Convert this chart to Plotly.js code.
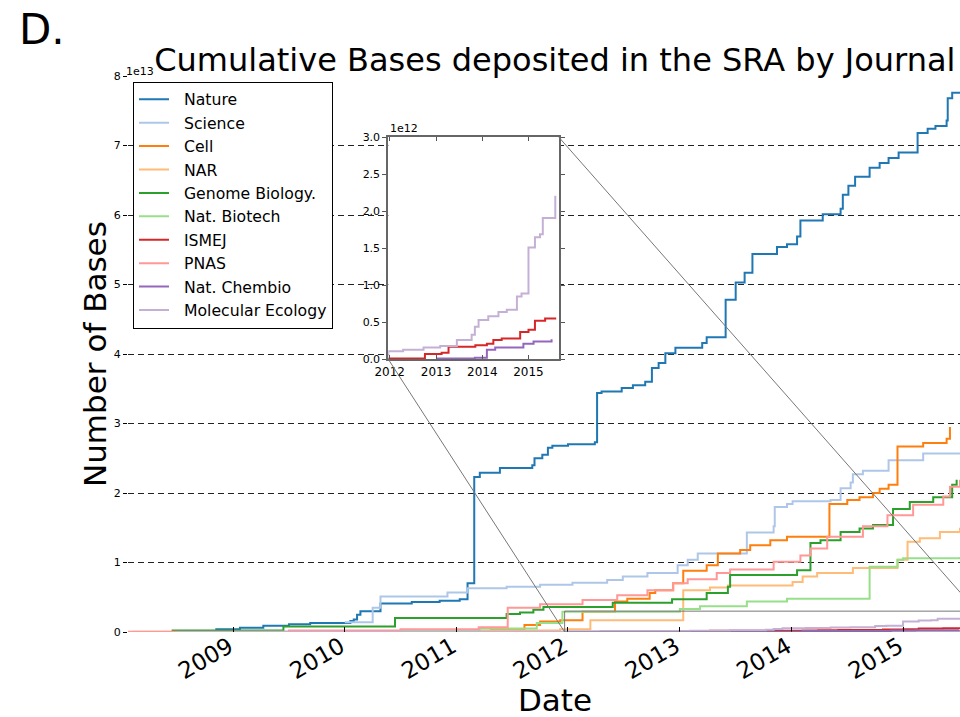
<!DOCTYPE html>
<html>
<head>
<meta charset="utf-8">
<script src="https://cdn.plot.ly/plotly-3.0.1.min.js"></script>
<style>html,body{margin:0;padding:0;background:#fff;}#chart{width:960px;height:717px;}</style>
</head>
<body>
<div id="chart"></div>
<script>
// ---- data (dates as decimal years, values in bases) ----
const journalNames = ["Nature","Science","Cell","NAR","Genome Biology.","Nat. Biotech","ISMEJ","PNAS","Nat. Chembio","Molecular Ecology"];
const journalColors = ["#1f77b4","#aec7e8","#ff7f0e","#ffbb78","#2ca02c","#98df8a","#d62728","#ff9896","#9467bd","#c5b0d5"];

const natureYears = [2008.84,2009.06,2009.27,2009.5,2009.69,2010.05,2010.08,2010.11,2010.14,2010.32,2010.6,2010.85,2011.03,2011.10,2011.16,2011.21,2011.39,2011.68,2011.70,2011.77,2011.82,2011.86,2012.0,2012.24,2012.26,2012.30,2012.48,2012.58,2012.69,2012.75,2012.81,2012.87,2012.96,2013.20,2013.24,2013.41,2013.50,2013.58,2013.65,2013.87,2013.96,2014.05,2014.08,2014.28,2014.44,2014.46,2014.51,2014.57,2014.70,2014.79,2014.87,2014.96,2015.13,2015.22,2015.29,2015.39,2015.40,2015.44,2015.56];
const natureBases = [0.04e13,0.06e13,0.09e13,0.11e13,0.13e13,0.16e13,0.18e13,0.25e13,0.30e13,0.41e13,0.43e13,0.45e13,0.47e13,0.70e13,2.23e13,2.29e13,2.36e13,2.40e13,2.50e13,2.55e13,2.65e13,2.68e13,2.70e13,2.73e13,3.44e13,3.46e13,3.51e13,3.55e13,3.60e13,3.80e13,3.87e13,4.01e13,4.09e13,4.16e13,4.24e13,4.78e13,5.03e13,5.17e13,5.44e13,5.54e13,5.58e13,5.69e13,5.92e13,6.01e13,6.09e13,6.29e13,6.42e13,6.55e13,6.68e13,6.75e13,6.82e13,6.90e13,7.18e13,7.24e13,7.28e13,7.36e13,7.68e13,7.76e13,7.78e13];

const scienceYears = [2010.00,2010.25,2010.32,2010.92,2011.10,2011.45,2011.75,2012.04,2012.35,2012.49,2012.71,2012.98,2013.07,2013.16,2013.60,2013.84,2013.85,2013.96,2014.01,2014.35,2014.44,2014.53,2014.55,2014.64,2014.87,2015.18,2015.55];
const scienceBases = [0.14e13,0.35e13,0.51e13,0.57e13,0.63e13,0.65e13,0.68e13,0.71e13,0.75e13,0.80e13,0.85e13,0.96e13,1.04e13,1.13e13,1.43e13,1.52e13,1.80e13,1.84e13,1.88e13,1.90e13,2.07e13,2.15e13,2.27e13,2.32e13,2.47e13,2.57e13,2.58e13];

const cellYears = [2011.30,2011.61,2011.75,2011.93,2012.13,2012.42,2012.53,2012.73,2012.78,2012.94,2013.03,2013.24,2013.34,2013.54,2013.63,2013.81,2013.96,2014.34,2014.50,2014.61,2014.73,2014.79,2014.87,2014.95,2015.18,2015.39,2015.42];
const cellBases = [0.03e13,0.10e13,0.15e13,0.17e13,0.29e13,0.44e13,0.48e13,0.56e13,0.60e13,0.70e13,0.88e13,0.96e13,1.13e13,1.18e13,1.25e13,1.32e13,1.37e13,1.84e13,1.90e13,1.94e13,2.00e13,2.06e13,2.12e13,2.67e13,2.72e13,2.78e13,2.95e13];

const narYears = [2008.10,2010.94,2011.93,2012.20,2013.03,2013.27,2013.43,2014.01,2014.10,2014.23,2014.55,2014.95,2015.04,2015.15,2015.33,2015.51];
const narBases = [0.005e13,0.02e13,0.04e13,0.17e13,0.60e13,0.64e13,0.67e13,0.72e13,0.80e13,0.85e13,0.92e13,1.04e13,1.30e13,1.35e13,1.44e13,1.50e13];

const genomeYears = [2008.45,2009.45,2010.45,2011.45,2011.57,2011.69,2011.78,2012.40,2012.93,2013.24,2013.43,2013.45,2014.05,2014.17,2014.26,2014.44,2014.61,2014.73,2014.91,2015.06,2015.27,2015.44,2015.48];
const genomeBases = [0.02e13,0.08e13,0.20e13,0.26e13,0.28e13,0.32e13,0.36e13,0.42e13,0.47e13,0.56e13,0.65e13,0.82e13,0.89e13,1.28e13,1.32e13,1.44e13,1.49e13,1.54e13,1.77e13,1.87e13,1.94e13,2.12e13,2.19e13];

const biotechYears = [2009.00,2010.50,2011.21,2011.72,2011.95,2013.00,2013.18,2013.60,2013.96,2014.70,2014.95,2015.00,2015.51];
const biotechBases = [0.005e13,0.02e13,0.05e13,0.13e13,0.29e13,0.33e13,0.37e13,0.44e13,0.48e13,0.94e13,1.04e13,1.06e13,1.08e13];

const ismejYears = [2009.50,2011.97,2012.76,2013.12,2013.27,2013.85,2014.10,2014.24,2014.42,2014.82,2015.00,2015.14,2015.36,2015.60];
const ismejBases = [0.002e12,0.01e12,0.07e12,0.09e12,0.17e12,0.19e12,0.21e12,0.26e12,0.28e12,0.37e12,0.40e12,0.52e12,0.55e12,0.55e12];

const pnasYears = [2008.05,2009.50,2010.50,2011.20,2011.46,2011.75,2012.13,2012.44,2012.71,2012.94,2013.07,2013.33,2013.45,2013.84,2014.08,2014.17,2014.32,2014.64,2014.86,2015.09,2015.36,2015.42,2015.51];
const pnasBases = [0.005e13,0.02e13,0.04e13,0.07e13,0.35e13,0.40e13,0.46e13,0.53e13,0.60e13,0.70e13,0.76e13,0.85e13,0.90e13,1.01e13,1.10e13,1.20e13,1.37e13,1.52e13,1.68e13,1.83e13,1.95e13,2.09e13,2.19e13];

const chembioYears = [2013.00,2013.84,2014.10,2014.28,2014.89,2015.11,2015.50];
const chembioBases = [0.01e12,0.02e12,0.13e12,0.16e12,0.21e12,0.24e12,0.27e12];

const molecoYears = [2008.50,2010.50,2011.97,2012.29,2012.73,2013.09,2013.45,2013.77,2013.84,2013.92,2014.13,2014.35,2014.53,2014.75,2014.85,2015.00,2015.14,2015.25,2015.31,2015.58];
const molecoBases = [0.01e12,0.05e12,0.11e12,0.13e12,0.16e12,0.18e12,0.26e12,0.33e12,0.44e12,0.53e12,0.58e12,0.64e12,0.67e12,0.85e12,0.89e12,1.51e12,1.65e12,1.69e12,1.91e12,2.21e12];

const mainYTicks = [0,1e13,2e13,3e13,4e13,5e13,6e13,7e13,8e13];
const mainYTickText = ["0","1","2","3","4","5","6","7","8"];
const insetYTicks = [0,0.5e12,1.0e12,1.5e12,2.0e12,2.5e12,3.0e12];
const insetYTickText = ["0.0","0.5","1.0","1.5","2.0","2.5","3.0"];
const yearTicks = [2009,2010,2011,2012,2013,2014,2015];
const insetYearTicks = [2012,2013,2014,2015];

// ---- helpers ----
function toDate(y){
  const yr = Math.floor(y);
  const s = Date.UTC(yr,0,1), e = Date.UTC(yr+1,0,1);
  return new Date(s + (y-yr)*(e-s)).toISOString().slice(0,19).replace('T',' ');
}
const seriesYears = [natureYears,scienceYears,cellYears,narYears,genomeYears,biotechYears,ismejYears,pnasYears,chembioYears,molecoYears];
const seriesBases = [natureBases,scienceBases,cellBases,narBases,genomeBases,biotechBases,ismejBases,pnasBases,chembioBases,molecoBases];
const insetSeries = [6,8,9];

const mainX0 = 2008.06, mainX1 = 2015.51;
const insetX0 = 2011.97, insetX1 = 2015.66;
const insetDomX = [0.3129, 0.518];
const insetDomY = [0.4905, 0.8897];

const font = "DejaVu Sans, Liberation Sans, sans-serif";
const pad = '\u00a0\u00a0';
const traces = [];
journalNames.forEach((name,i)=>{
  traces.push({
    type:'scatter', mode:'lines', name:pad+name,
    x: seriesYears[i].map(toDate), y: seriesBases[i],
    line:{color:journalColors[i], width:2, shape:'hv'},
    xaxis:'x', yaxis:'y', hoverinfo:'skip'
  });
});
insetSeries.forEach(i=>{
  traces.push({
    type:'scatter', mode:'lines', name:journalNames[i], showlegend:false,
    x: seriesYears[i].map(toDate), y: seriesBases[i],
    line:{color:journalColors[i], width:2, shape:'hv'},
    xaxis:'x2', yaxis:'y2', hoverinfo:'skip'
  });
});

// paper coordinates of the zoomed rectangle's corners in the main axes
const px = y => (y - mainX0)/(mainX1 - mainX0);
const py = v => v/8e13;

const layout = {
  width:960, height:717,
  margin:{l:128, r:0, t:76, b:85},
  paper_bgcolor:'#fff', plot_bgcolor:'#fff',
  font:{family:font, color:'#000'},
  showlegend:true,
  title:{text:'Cumulative Bases deposited in the SRA by Journal', font:{size:32, family:font, color:'#000'},
         xref:'paper', x:0.513, xanchor:'center', yref:'container', y:0.917, yanchor:'middle'},
  xaxis:{type:'date', range:[toDate(mainX0), toDate(mainX1)], domain:[0,1],
         tickvals: yearTicks.map(y=>toDate(y)), ticktext: yearTicks.map(String),
         tickangle:-30, tickfont:{size:23, family:font, color:'#000'},
         ticklabelshift:-4, ticklabelstandoff:-4,
         ticks:'inside', ticklen:5, tickcolor:'#000', showgrid:false, showline:false, zeroline:false},
  yaxis:{range:[0,8e13], domain:[0,1], tickvals:mainYTicks, ticktext:mainYTickText,
         tickfont:{size:11, family:font, color:'#000'}, ticks:'outside', ticklen:4, tickcolor:'#000',
         showgrid:true, gridcolor:'#222', griddash:'6px,4px', gridwidth:1, zeroline:false, showline:false},
  xaxis2:{type:'date', anchor:'y2', domain:insetDomX, range:[toDate(insetX0), toDate(insetX1)],
          tickvals: insetYearTicks.map(y=>toDate(y)), ticktext:insetYearTicks.map(String),
          tickangle:0, tickfont:{size:12, family:font, color:'#000'},
          ticks:'inside', ticklen:4, tickcolor:'#555', showgrid:false, zeroline:false,
          showline:true, linecolor:'#666', linewidth:2, mirror:'ticks'},
  yaxis2:{anchor:'x2', domain:insetDomY, range:[0,3e12], tickvals:insetYTicks, ticktext:insetYTickText,
          tickfont:{size:11, family:font, color:'#000'}, ticks:'outside', ticklen:4, tickcolor:'#555',
          showgrid:false, zeroline:false, showline:true, linecolor:'#666', linewidth:2, mirror:'ticks'},
  legend:{x:0.006, y:0.99, xanchor:'left', yanchor:'top', xref:'paper', yref:'paper',
          bgcolor:'#fff', bordercolor:'#000', borderwidth:1, font:{size:15.7, family:font, color:'#000'},
          tracegroupgap:0},
  shapes:[
    {type:'rect', xref:'x', yref:'y', x0:toDate(insetX0), x1:toDate(insetX1), y0:0, y1:3e12,
     line:{color:'#777', width:1}, fillcolor:'rgba(0,0,0,0)', layer:'above'},
    {type:'line', xref:'paper', yref:'paper', x0:insetDomX[0], y0:insetDomY[0], x1:px(insetX0), y1:py(0),
     line:{color:'#777', width:1}, layer:'above'},
    {type:'line', xref:'paper', yref:'paper', x0:insetDomX[1], y0:insetDomY[1], x1:px(insetX1), y1:py(3e12),
     line:{color:'#777', width:1}, layer:'above'}
  ],
  annotations:[
    {text:'D.', xref:'paper', yref:'paper', x:-0.133, y:1.132, xanchor:'left', yanchor:'top', showarrow:false,
     font:{size:42, family:font, color:'#000'}},
    {text:'1e13', xref:'paper', yref:'paper', x:-0.0045, y:0.993, xanchor:'left', yanchor:'bottom', showarrow:false,
     font:{size:11, family:font, color:'#000'}},
    {text:'1e12', xref:'paper', yref:'paper', x:insetDomX[0], y:insetDomY[1], xanchor:'left', yanchor:'bottom', showarrow:false,
     font:{size:11, family:font, color:'#000'}},
    {text:'Number of Bases', xref:'paper', yref:'paper', x:-0.0397, y:0.5, xanchor:'center', yanchor:'middle',
     textangle:-90, showarrow:false, font:{size:31, family:font, color:'#000'}},
    {text:'Date', xref:'paper', yref:'paper', x:0.513, y:-0.122, xanchor:'center', yanchor:'middle',
     showarrow:false, font:{size:31, family:font, color:'#000'}}
  ]
};

Plotly.newPlot('chart', traces, layout, {staticPlot:true, displayModeBar:false});
</script>
</body>
</html>
